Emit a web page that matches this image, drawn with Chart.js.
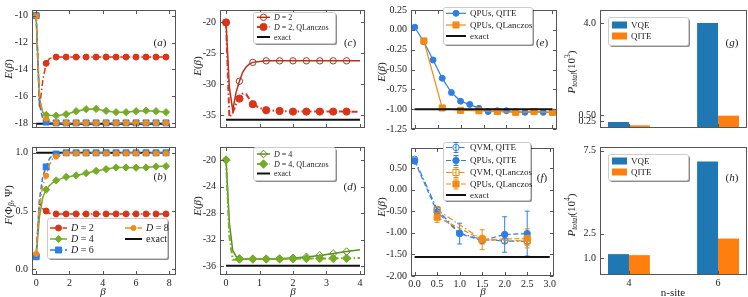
<!DOCTYPE html>
<html>
<head>
<meta charset="utf-8">
<script src="https://cdn.jsdelivr.net/npm/chart.js@4.4.0/dist/chart.umd.min.js"></script>
<style>
  body { margin: 0; background: #fff; width: 748px; height: 297px; position: relative; overflow: hidden; }
  canvas { position: absolute; }
</style>
</head>
<body>
<script>
// ---- (a)/(b): energy and fidelity vs beta for bond dimensions D
const betaAB = [0, 0.2, 0.4, 0.6, 0.8, 1.0, 1.2, 1.8, 2.4, 3.0, 3.6, 4.2, 4.8, 5.4, 6.0, 6.6, 7.2, 7.8];
const energyD2 = [-10, -16.8, -14.8, -13.55, -13.2, -13.1, -13.08, -13.08, -13.08, -13.08, -13.08, -13.08, -13.08, -13.08, -13.08, -13.08, -13.08, -13.08];
const energyD4 = [-10, -16.3, -17.2, -17.39, -17.42, -17.43, -17.44, -17.33, -17.11, -16.96, -16.94, -17.09, -17.18, -17.18, -17.11, -17.07, -17.11, -17.18];
const energyD6 = [-10, -16.6, -17.7, -17.92, -17.96, -17.98, -17.98, -17.98, -17.98, -17.98, -17.98, -17.98, -17.98, -17.98, -17.98, -17.98, -17.98, -17.98];
const energyD8 = [-10, -16.0, -17.3, -17.67, -17.88, -17.95, -17.98, -17.98, -17.98, -17.98, -17.98, -17.98, -17.98, -17.98, -17.98, -17.98, -17.98, -17.98];
const exactA = -18.04;
const fidD2 = [0.12, 0.57, 0.52, 0.50, 0.48, 0.475, 0.475, 0.475, 0.475, 0.475, 0.475, 0.475, 0.475, 0.475, 0.475, 0.475, 0.475, 0.475];
const fidD4 = [0.11, 0.45, 0.62, 0.683, 0.72, 0.745, 0.763, 0.793, 0.806, 0.825, 0.844, 0.86, 0.874, 0.874, 0.872, 0.874, 0.882, 0.885];
const fidD6 = [0.107, 0.6, 0.8, 0.879, 0.95, 0.98, 0.99, 1.0, 1.0, 1.0, 1.0, 1.0, 1.0, 1.0, 1.0, 1.0, 1.0, 1.0];
const fidD8 = [0.132, 0.55, 0.72, 0.804, 0.9, 0.95, 0.968, 0.995, 0.995, 0.995, 0.995, 0.995, 0.995, 0.995, 0.995, 0.995, 0.995, 0.995];
const exactB = 1.0;

// ---- (c)/(d): QITE vs QLanczos
const betaCD = [0, 0.1, 0.2, 0.3, 0.4, 0.5, 0.6, 0.7, 0.8, 1.0, 1.2, 1.6, 2.0, 2.4, 2.8, 3.2, 3.6, 4.0];
const energyC = [-20, -30.5, -34.2, -31.3, -29.5, -28.0, -27.2, -26.7, -26.45, -26.3, -26.2, -26.2, -26.2, -26.2, -26.2, -26.2, -26.2, -26.2];
const energyCql = [-20, -35.3, -34.6, -33.2, -32.3, -31.5, -31.6, -32.4, -33.2, -33.8, -34.17, -34.3, -34.4, -34.4, -34.4, -34.4, -34.4, -34.45];
const exactC = -35.7;
const energyD = [-20, -29.5, -33.6, -34.5, -34.8, -34.88, -34.9, -34.9, -34.9, -34.9, -34.9, -34.85, -34.73, -34.58, -34.35, -34.07, -33.78, -33.5];
const energyDql = [-20, -31.5, -35.0, -35.0, -34.9, -34.9, -34.9, -34.9, -34.9, -34.9, -34.9, -34.88, -34.85, -34.82, -34.8, -34.8, -34.78, -34.75];
const exactD = -35.9;

// ---- (e)/(f): quantum hardware runs
const betaE = [0, 0.2, 0.4, 0.6, 0.8, 1.0, 1.2, 1.4, 1.6, 1.8, 2.0, 2.2, 2.4, 2.6, 2.8, 3.0];
const qpuQite = [0.033, -0.15, -0.38, -0.61, -0.79, -0.90, -0.94, -0.99, -1.03, -1.02, -1.02, -1.03, -1.04, -1.03, -1.04, -1.04];
const betaEql = [0.2, 0.6, 1.0, 1.4, 1.8, 2.2, 2.6, 3.0];
const qpuQl = [-0.14, -0.985, -1.015, -1.02, -1.03, -1.04, -1.03, -1.04];
const exactE = -1.0;
const betaF = [0, 0.5, 1.0, 1.5, 2.0, 2.5];
const qvmQiteF = [0.70, -0.46, -1.01, -1.16, -1.19, -1.20];
const qvmQiteErr = [0.03, 0.05, 0.05, 0.05, 0.05, 0.05];
const qpuQiteF = [0.66, -0.52, -1.02, -1.18, -1.04, -1.02];
const qpuQiteErr = [0.03, 0.06, 0.24, 0.05, 0.41, 0.52];
const betaFql = [0.5, 1.5, 2.5];
const qvmQlF = [-0.47, -1.16, -1.19];
const qvmQlErr = [0.05, 0.1, 0.1];
const qpuQlF = [-0.64, -1.16, -1.13];
const qpuQlErr = [0.12, 0.23, 0.22];
const exactF = -1.56;

// ---- (g)/(h): total measurement counts
const nSite = [4, 6];
const vqeG = [0.23, 4.0], qiteG = [0.1, 0.47];
const vqeH = [1.26, 6.86], qiteH = [1.2, 2.2];

// ---- tick values
const ticksBeta8 = [0, 2, 4, 6, 8];
const ticksBeta4 = [0, 1, 2, 3, 4];
const ticksBeta3 = [0, 0.5, 1, 1.5, 2, 2.5, 3];
const ticksA = [-18, -16, -14, -12, -10];
const ticksB = [0, 0.5, 1];
const ticksC = [-35, -30, -25, -20];
const ticksD = [-36, -32, -28, -24, -20];
const ticksE = [-1.25, -1, -0.75, -0.5, -0.25, 0, 0.25];
const ticksF = [-2, -1.5, -1, -0.5, 0, 0.5];
const ticksG = [0.25, 0.5, 4.0];
const ticksH = [1.0, 2.5, 7.5];

const SERIF = '"Liberation Serif", "DejaVu Serif", serif';
const INK = '#222';
const RED = '#dc3418', GREEN = '#74ad25', BLUE = '#2d7fe6', ORANGE = '#f28b13';
const DARKRED = '#b5311d', DARKGREEN = '#5a8f1e';
const TAB_BLUE = '#1f77b4', TAB_ORANGE = '#ff7f0e';
const DASH = [5, 2.5], DASHDOT = [6, 2.5, 1.5, 2.5];
const NONE = 'rgba(0,0,0,0)';

const fixed = d => v => Number(v).toFixed(d);

function isMark(x, step, max) {
  const k = x / step;
  return Math.abs(k - Math.round(k)) < 1e-6 && x <= max + 1e-9;
}

function line(label, xs, ys, color, opt) {
  const o = Object.assign({ markR: 3, step: 1e-9, markMax: 99, style: 'circle', fill: color, dash: [], width: 1.5 }, opt);
  return {
    label, data: xs.map((x, i) => ({ x, y: ys[i] })),
    borderColor: color, backgroundColor: color, borderWidth: o.width, borderDash: o.dash,
    pointStyle: o.style, pointBackgroundColor: o.fill, pointBorderColor: color, pointBorderWidth: 1,
    pointRadius: c => (c.raw && (o.step < 1e-6 || isMark(c.raw.x, o.step, o.markMax))) ? o.markR : 0,
    markR: o.markR, tension: 0, fill: false, errors: o.errors
  };
}
function exact(xs, v) {
  return line('exact', xs, xs.map(() => v), '#111', { markR: 0, width: 2 });
}

// rich text: *italic*, _{sub}, ^{sup}
function parseRich(s) {
  const segs = []; let it = false, mode = 0, buf = '';
  const push = () => { if (buf) segs.push({ t: buf, it, mode }); buf = ''; };
  for (let i = 0; i < s.length; i++) {
    const c = s[i];
    if (c === '*') { push(); it = !it; }
    else if ((c === '_' || c === '^') && s[i + 1] === '{') { push(); mode = c === '_' ? -1 : 1; i++; }
    else if (c === '}' && mode !== 0) { push(); mode = 0; }
    else buf += c;
  }
  push();
  return segs;
}
function drawRich(ctx, s, x, y, size, align, rot) {
  const segs = parseRich(s);
  const fontOf = g => (g.it ? 'italic ' : '') + (g.mode ? size * 0.7 : size) + 'px ' + SERIF;
  let w = 0;
  segs.forEach(g => { ctx.font = fontOf(g); g.w = ctx.measureText(g.t).width; w += g.w; });
  ctx.save();
  ctx.translate(x, y);
  if (rot) ctx.rotate(rot);
  let cx = align === 'center' ? -w / 2 : 0;
  ctx.textBaseline = 'alphabetic'; ctx.textAlign = 'left'; ctx.fillStyle = INK;
  const base = size * 0.33;
  segs.forEach(g => {
    ctx.font = fontOf(g);
    const dy = g.mode === -1 ? size * 0.22 : g.mode === 1 ? -size * 0.4 : 0;
    ctx.fillText(g.t, cx, base + dy);
    cx += g.w;
  });
  ctx.restore();
}

function drawMark(ctx, style, r, x, y, fill, stroke) {
  if (r <= 0) return;
  ctx.beginPath();
  if (style === 'rect') { const s = r * Math.SQRT1_2; ctx.rect(x - s, y - s, 2 * s, 2 * s); }
  else if (style === 'rectRot') { ctx.moveTo(x - r, y); ctx.lineTo(x, y - r); ctx.lineTo(x + r, y); ctx.lineTo(x, y + r); ctx.closePath(); }
  else ctx.arc(x, y, r, 0, Math.PI * 2);
  ctx.setLineDash([]);
  ctx.fillStyle = fill; ctx.fill();
  ctx.lineWidth = 1; ctx.strokeStyle = stroke; ctx.stroke();
}

function decor(p) {
  const P = (x, y) => [x - p.cl, y - p.ct];
  return {
    id: 'decor',
    beforeDatasetsDraw(chart) {
      const ctx = chart.ctx, xs = chart.scales.x, ys = chart.scales.y;
      ctx.save();
      chart.data.datasets.forEach(ds => {
        if (!ds.errors) return;
        ctx.strokeStyle = ds.borderColor; ctx.lineWidth = 1; ctx.setLineDash([]);
        ds.data.forEach((pt, i) => {
          const e = ds.errors[i];
          const px = xs.getPixelForValue(pt.x);
          const y1 = ys.getPixelForValue(pt.y - e), y2 = ys.getPixelForValue(pt.y + e);
          ctx.beginPath();
          ctx.moveTo(px, y1); ctx.lineTo(px, y2);
          ctx.moveTo(px - 2.5, y1); ctx.lineTo(px + 2.5, y1);
          ctx.moveTo(px - 2.5, y2); ctx.lineTo(px + 2.5, y2);
          ctx.stroke();
        });
      });
      ctx.restore();
    },
    afterDraw(chart) {
      const ctx = chart.ctx, a = chart.chartArea, xs = chart.scales.x, ys = chart.scales.y;
      ctx.save();
      ctx.setLineDash([]);
      ctx.strokeStyle = '#555'; ctx.lineWidth = 1;
      const L = Math.round(a.left) + 0.5, T = Math.round(a.top) + 0.5;
      const R = Math.round(a.right) - 0.5, B = Math.round(a.bottom) - 0.5;
      ctx.strokeRect(L, T, R - L, B - T);
      const tl = 3.5;
      ctx.beginPath();
      p.xTicks.forEach(v => {
        const px = Math.round(xs.getPixelForValue(v)) + 0.5;
        ctx.moveTo(px, B); ctx.lineTo(px, B - tl);
        if (p.mirror) { ctx.moveTo(px, T); ctx.lineTo(px, T + tl); }
      });
      p.yTicks.forEach(v => {
        const py = Math.round(ys.getPixelForValue(v)) + 0.5;
        ctx.moveTo(L, py); ctx.lineTo(L + tl, py);
        if (p.mirror) { ctx.moveTo(R, py); ctx.lineTo(R - tl, py); }
      });
      ctx.stroke();

      // legend
      if (p.legend) {
        const lg = p.legend;
        const [x0, y0] = P(lg.box[0], lg.box[1]);
        const w = lg.box[2] - lg.box[0], h = lg.box[3] - lg.box[1];
        ctx.fillStyle = 'rgba(0,0,0,0.45)';
        ctx.beginPath(); ctx.roundRect(x0 + 2, y0 + 2, w, h, 2); ctx.fill();
        ctx.fillStyle = '#fff'; ctx.strokeStyle = '#ccc';
        ctx.beginPath(); ctx.roundRect(x0 + 0.5, y0 + 0.5, w, h, 2); ctx.fill(); ctx.stroke();
        lg.items.forEach(([di, label, sx, sy]) => {
          const ds = chart.data.datasets[di];
          const [x, y] = P(sx, sy);
          if (p.type === 'bar') {
            ctx.fillStyle = ds.backgroundColor;
            ctx.fillRect(x, y - 3.5, lg.sw, 7);
          } else {
            ctx.strokeStyle = ds.borderColor; ctx.lineWidth = ds.borderWidth;
            ctx.setLineDash(ds.borderDash || []);
            ctx.beginPath(); ctx.moveTo(x, y); ctx.lineTo(x + lg.sw, y); ctx.stroke();
            ctx.setLineDash([]);
            const mx = x + lg.sw / 2;
            if (ds.errors) {
              ctx.lineWidth = 1;
              ctx.beginPath();
              ctx.moveTo(mx, y - 5); ctx.lineTo(mx, y + 5);
              ctx.moveTo(mx - 2.5, y - 5); ctx.lineTo(mx + 2.5, y - 5);
              ctx.moveTo(mx - 2.5, y + 5); ctx.lineTo(mx + 2.5, y + 5);
              ctx.stroke();
            }
            drawMark(ctx, ds.pointStyle, ds.markR, mx, y, ds.pointBackgroundColor, ds.pointBorderColor);
          }
          drawRich(ctx, label, x + lg.sw + 4, y, lg.fs, 'left', 0);
        });
      }
      // panel tag and axis titles
      if (p.tag) { const [x, y] = P(p.tag[1], p.tag[2]); drawRich(ctx, p.tag[0], x, y, 11, 'center', 0); }
      (p.titles || []).forEach(([s, tx, ty, rot]) => {
        const [x, y] = P(tx, ty);
        drawRich(ctx, s, x, y, 11, 'center', rot ? -Math.PI / 2 : 0);
      });
      ctx.restore();
    }
  };
}

function makePanel(p) {
  const cl = p.area[0] - p.axisW, ct = p.area[1] - 3;
  const cw = p.area[2] + 1 - cl, ch = p.area[3] - ct + p.axisH;
  const cv = document.createElement('canvas');
  cv.width = cw; cv.height = ch;
  Object.assign(cv.style, { left: cl + 'px', top: ct + 'px', width: cw + 'px', height: ch + 'px' });
  document.body.appendChild(cv);
  p.cl = cl; p.ct = ct;
  if (p.type !== 'bar') p.datasets.forEach((d, i) => { d.order = -i; });
  const tickFont = { family: SERIF, size: 10 };
  return new Chart(cv, {
    type: p.type || 'line',
    data: { datasets: p.datasets },
    options: {
      responsive: false, animation: false, devicePixelRatio: 1, events: [],
      layout: { padding: { top: 3, right: 1, left: 0, bottom: 0 }, autoPadding: false },
      plugins: { legend: { display: false }, tooltip: { enabled: false } },
      scales: {
        x: {
          type: 'linear', min: p.xr[0], max: p.xr[1], offset: false,
          grid: { display: false, drawTicks: false }, border: { display: false },
          afterBuildTicks: s => { s.ticks = p.xTicks.map(v => ({ value: v })); },
          afterFit: s => { s.height = p.axisH; },
          ticks: { display: p.axisH > 0, font: tickFont, color: INK, padding: 2, maxRotation: 0, autoSkip: false, callback: v => p.xFmt(v) }
        },
        y: {
          type: 'linear', min: p.yr[0], max: p.yr[1],
          grid: { display: false, drawTicks: false }, border: { display: false },
          afterBuildTicks: s => { s.ticks = p.yTicks.map(v => ({ value: v })); },
          afterFit: s => { s.width = p.axisW; },
          ticks: { font: tickFont, color: INK, padding: 4, autoSkip: false, callback: v => p.yFmt(v) }
        }
      }
    },
    plugins: [decor(p)]
  });
}

const ab = { step: 0.6 };
const cd = { step: 0.4, markMax: 3.6 };

// (a)
makePanel({
  area: [32, 3, 176, 138], axisW: 32, axisH: 0, mirror: true,
  xr: [-0.25, 8.4], yr: [-18.36, -9.58], xTicks: ticksBeta8, yTicks: ticksA, xFmt: fixed(0), yFmt: fixed(0),
  datasets: [
    exact([0, 8], exactA),
    line('D = 2', betaAB, energyD2, RED, Object.assign({ dash: DASHDOT, markR: 3 }, ab)),
    line('D = 4', betaAB, energyD4, GREEN, Object.assign({ style: 'rectRot', markR: 3.6 }, ab)),
    line('D = 6', betaAB, energyD6, BLUE, Object.assign({ style: 'rect', dash: DASH, markR: 4.2 }, ab)),
    line('D = 8', betaAB, energyD8, ORANGE, Object.assign({ dash: DASHDOT, markR: 2.6 }, ab))
  ],
  tag: ['(*a*)', 160, 42], titles: [['*E*(*β*)', 8, 69, true]]
});
// (b)
makePanel({
  area: [32, 140, 176, 275], axisW: 32, axisH: 22, mirror: true,
  xr: [-0.25, 8.4], yr: [-0.05, 1.05], xTicks: ticksBeta8, yTicks: ticksB, xFmt: fixed(0), yFmt: fixed(1),
  datasets: [
    exact([0, 8], exactB),
    line('D = 2', betaAB, fidD2, RED, Object.assign({ dash: DASHDOT, markR: 3 }, ab)),
    line('D = 4', betaAB, fidD4, GREEN, Object.assign({ style: 'rectRot', markR: 3.6 }, ab)),
    line('D = 6', betaAB, fidD6, BLUE, Object.assign({ style: 'rect', dash: DASH, markR: 4.2 }, ab)),
    line('D = 8', betaAB, fidD8, ORANGE, Object.assign({ dash: DASHDOT, markR: 2.6 }, ab))
  ],
  legend: { box: [47, 218, 167, 258], sw: 17, fs: 10, items: [
    [1, '*D* = 2', 50, 228], [2, '*D* = 4', 50, 239], [3, '*D* = 6', 50, 250],
    [4, '*D* = 8', 125, 228], [0, 'exact', 125, 239]] },
  tag: ['(*b*)', 160, 176], titles: [['*F*(Φ_{*β*}, Ψ)', 8, 205, true], ['*β*', 103, 291, false]]
});
// (c)
makePanel({
  area: [220, 3, 365, 138], axisW: 32, axisH: 0, mirror: true,
  xr: [-0.18, 4.15], yr: [-37.05, -17.99], xTicks: ticksBeta4, yTicks: ticksC, xFmt: fixed(0), yFmt: fixed(0),
  datasets: [
    exact([0, 4], exactC),
    line('D = 2', betaCD, energyC, DARKRED, Object.assign({ fill: NONE, markR: 3.2 }, cd)),
    line('D = 2, QLanczos', betaCD, energyCql, RED, Object.assign({ dash: DASHDOT, width: 2, markR: 3.6 }, cd))
  ],
  legend: { box: [253, 12, 335, 43], sw: 13, fs: 8, items: [
    [1, '*D* = 2', 257, 17.3], [2, '*D* = 2, QLanczos', 257, 27], [0, 'exact', 257, 37]] },
  tag: ['(*c*)', 350, 42], titles: [['*E*(*β*)', 197, 66, true]]
});
// (d)
makePanel({
  area: [220, 140, 365, 275], axisW: 32, axisH: 22, mirror: true,
  xr: [-0.18, 4.15], yr: [-37.3, -18.05], xTicks: ticksBeta4, yTicks: ticksD, xFmt: fixed(0), yFmt: fixed(0),
  datasets: [
    exact([0, 4], exactD),
    line('D = 4', betaCD, energyD, DARKGREEN, Object.assign({ style: 'rectRot', fill: NONE, markR: 3.8 }, cd)),
    line('D = 4, QLanczos', betaCD, energyDql, GREEN, Object.assign({ style: 'rectRot', dash: DASHDOT, width: 2, markR: 4.2 }, cd))
  ],
  legend: { box: [253, 147, 335, 180], sw: 13, fs: 8, items: [
    [1, '*D* = 4', 257, 154], [2, '*D* = 4, QLanczos', 257, 164], [0, 'exact', 257, 173.5]] },
  tag: ['(*d*)', 350, 186], titles: [['*E*(*β*)', 197, 206, true], ['*β*', 293, 291, false]]
});
// (e)
makePanel({
  area: [411, 3, 557, 139], axisW: 39, axisH: 0, mirror: true,
  xr: [-0.08, 3.1], yr: [-1.25, 0.25], xTicks: ticksBeta3, yTicks: ticksE, xFmt: fixed(1), yFmt: fixed(2),
  datasets: [
    line('QPUs, QITE', betaE, qpuQite, BLUE, { width: 1.2, markR: 3 }),
    line('QPUs, QLanczos', betaEql, qpuQl, ORANGE, { width: 1.2, style: 'rect', markR: 4.3 }),
    exact([0, 3], exactE)
  ],
  legend: { box: [443, 7, 532, 44], sw: 20, fs: 9, items: [
    [0, 'QPUs, QITE', 446, 13.3], [1, 'QPUs, QLanczos', 446, 25], [2, 'exact', 446, 36]] },
  tag: ['(*e*)', 542, 42], titles: [['*E*(*β*)', 381, 72, true]]
});
// (f)
makePanel({
  area: [411, 141, 557, 276], axisW: 39, axisH: 21, mirror: true,
  xr: [-0.08, 3.1], yr: [-2.0, 0.96], xTicks: ticksBeta3, yTicks: ticksF, xFmt: fixed(1), yFmt: fixed(2),
  datasets: [
    line('QVM, QITE', betaF, qvmQiteF, BLUE, { dash: DASHDOT, width: 1.2, fill: NONE, markR: 3.2, errors: qvmQiteErr }),
    line('QPUs, QITE', betaF, qpuQiteF, BLUE, { dash: DASH, width: 1.2, markR: 3.2, errors: qpuQiteErr }),
    line('QVM, QLanczos', betaFql, qvmQlF, ORANGE, { dash: DASHDOT, width: 1.2, style: 'rect', fill: NONE, markR: 4.3, errors: qvmQlErr }),
    line('QPUs, QLanczos', betaFql, qpuQlF, ORANGE, { dash: DASH, width: 1.2, style: 'rect', markR: 4.3, errors: qpuQlErr }),
    exact([0, 3], exactF)
  ],
  legend: { box: [443, 142, 530, 200], sw: 20, fs: 9, items: [
    [0, 'QVM, QITE', 446, 147.5], [1, 'QPUs, QITE', 446, 160.5], [2, 'QVM, QLanczos', 446, 172.5],
    [3, 'QPUs, QLanczos', 446, 184], [4, 'exact', 446, 195]] },
  tag: ['(*f*)', 542, 177], titles: [['*E*(*β*)', 381, 207, true], ['*β*', 483, 291, false]]
});

function bars(label, ys, color) {
  return { label, data: nSite.map((x, i) => ({ x, y: ys[i] })), backgroundColor: color,
    borderWidth: 0, categoryPercentage: 0.47, barPercentage: 1 };
}
// (g)
makePanel({
  type: 'bar', area: [600, 3, 747, 138], axisW: 38, axisH: 0, mirror: false,
  xr: [3.35, 6.65], yr: [0, 4.5], xTicks: nSite, yTicks: ticksG, xFmt: fixed(0), yFmt: v => (v === 4 ? '4.0' : fixed(2)(v)),
  datasets: [bars('VQE', vqeG, TAB_BLUE), bars('QITE', qiteG, TAB_ORANGE)],
  legend: { box: [608, 17, 688, 45], sw: 15, fs: 9, items: [[0, 'VQE', 612, 25], [1, 'QITE', 612, 36]] },
  tag: ['(*g*)', 732, 42], titles: [['*P*_{*total*}(10^{3})', 571, 72, true]]
});
// (h)
makePanel({
  type: 'bar', area: [600, 140, 747, 275], axisW: 38, axisH: 22, mirror: false,
  xr: [3.35, 6.65], yr: [0, 7.73], xTicks: nSite, yTicks: ticksH, xFmt: fixed(0), yFmt: fixed(1),
  datasets: [bars('VQE', vqeH, TAB_BLUE), bars('QITE', qiteH, TAB_ORANGE)],
  legend: { box: [608, 154, 688, 180], sw: 15, fs: 9, items: [[0, 'VQE', 612, 161], [1, 'QITE', 612, 172]] },
  tag: ['(*h*)', 732, 177], titles: [['*P*_{*total*}(10^{4})', 571, 215, true], ['n-site', 673, 292, false]]
});
</script>
</body>
</html>
